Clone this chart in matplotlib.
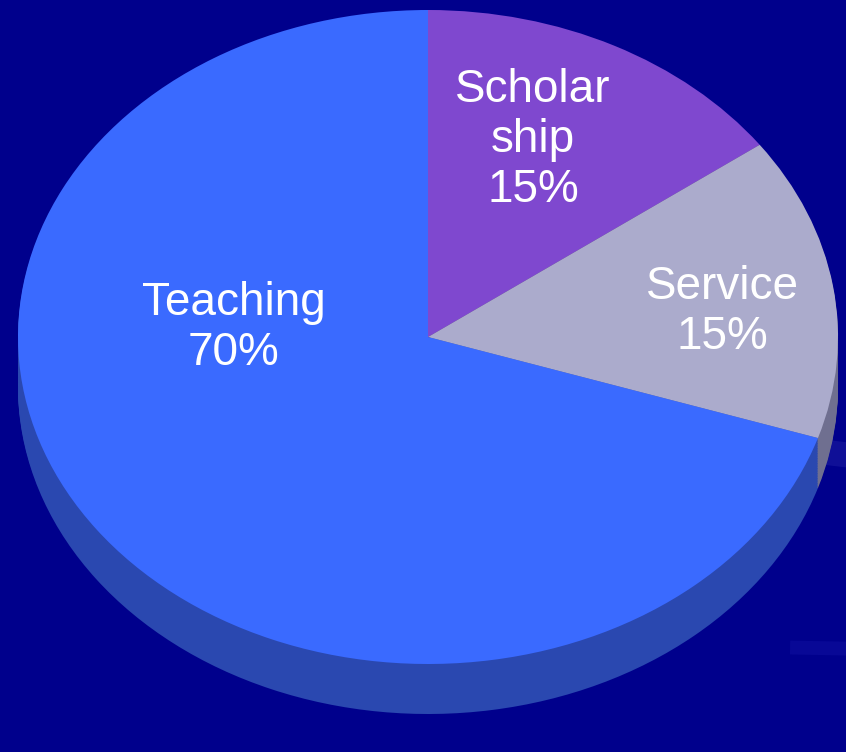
import matplotlib.pyplot as plt

plt.rcParams['font.family'] = ['Liberation Sans', 'DejaVu Sans']

labels = ['Scholar\nship', 'Service', 'Teaching']
shares = [15, 15, 70]
top_colors = ['#7f48cf', '#ababcc', '#3a6aff']
side_colors = ['#4a2a80', '#6f6f90', '#2a48b0']

W, H = 846, 752
cx, cy = 428, 337      # pixel centre of top face
rx, ry = 410, 327      # pixel radii of top face
depth = 50 / ry        # side thickness in data units

fig = plt.figure(figsize=(W / 100, H / 100), dpi=100)
fig.patch.set_facecolor('#00008c')
ax = fig.add_axes([0, 0, 1, 1])
ax.set_facecolor('#00008c')

# faint background streaks
ax.plot([0.95, 3], [-0.35, -0.65], color='#1a1aa0', lw=18, alpha=0.6, zorder=0)
ax.plot([0.9, 3], [-0.95, -1.0], color='#1010a0', lw=10, alpha=0.5, zorder=0)

# side of the pie: stacked offset copies
steps = 30
for k in range(steps, 0, -1):
    off = depth * k / steps
    ax.pie(shares, startangle=90, counterclock=False, colors=side_colors,
           center=(0, -off), radius=1, wedgeprops=dict(linewidth=0))

wedges, _ = ax.pie(shares, startangle=90, counterclock=False, colors=top_colors,
                   center=(0, 0), radius=1, wedgeprops=dict(linewidth=0))

ax.set_aspect('auto')
ax.set_xlim(-cx / rx, (W - cx) / rx)
ax.set_ylim(-(H - cy) / ry, cy / ry)
ax.axis('off')

def px(x, y):
    return (x - cx) / rx, (cy - y) / ry

texts = [
    ('Scholar\nship\n15%', 533, 140),
    ('Service\n15%', 722, 312),
    ('Teaching\n70%', 234, 328),
]
for t, x, y in texts:
    ax.text(*px(x, y), t, color='white', fontsize=33, ha='center', va='center',
            linespacing=1.17)

fig.savefig('out.png', dpi=100, facecolor=fig.get_facecolor())
